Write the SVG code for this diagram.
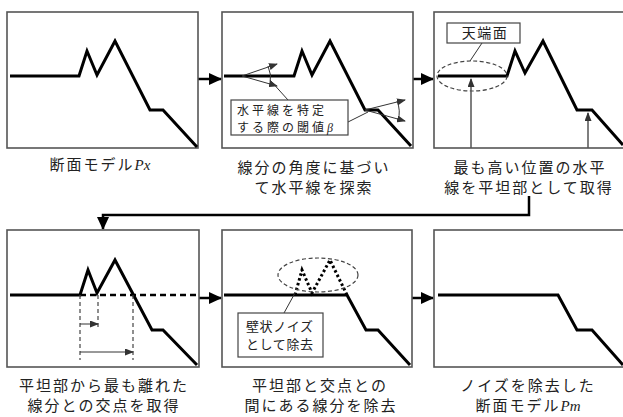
<svg xmlns="http://www.w3.org/2000/svg" width="623" height="417" viewBox="0 0 623 417">
<style>
.box{fill:#fff;stroke:#555;stroke-width:1.6}
.prof{fill:none;stroke:#000;stroke-width:3;stroke-linejoin:miter}
.conn{fill:none;stroke:#000;stroke-width:2.5}
.thin{fill:none;stroke:#333;stroke-width:1}
.gray{fill:none;stroke:#555;stroke-width:1.5}
.dash{fill:none;stroke:#444;stroke-width:1.2;stroke-dasharray:4 3}
.cap{font-family:"Noto Sans CJK JP","Noto Sans CJK SC",sans-serif;font-size:15px;letter-spacing:2px;fill:#222;text-anchor:middle}
.lab{font-family:"Noto Sans CJK JP","Noto Sans CJK SC",sans-serif;font-size:12px;letter-spacing:3px;fill:#222}
.lab2{font-family:"Noto Sans CJK JP","Noto Sans CJK SC",sans-serif;font-size:13px;letter-spacing:0.6px;fill:#222}
.it{font-family:"Liberation Serif",serif;font-style:italic;letter-spacing:0}
.cb{fill:#fff;stroke:#444;stroke-width:1.2}
</style>
<defs>
<marker id="big" markerUnits="userSpaceOnUse" markerWidth="13" markerHeight="12" refX="12" refY="6" orient="auto"><path d="M0,0 L13,6 L0,12 z" fill="#000"/></marker>
<marker id="sm" markerUnits="userSpaceOnUse" markerWidth="9" markerHeight="7" refX="8" refY="3.5" orient="auto"><path d="M0,0 L9,3.5 L0,7 z" fill="#333"/></marker>
</defs>

<g id="connectors">
<line class="conn" x1="198" y1="79" x2="221" y2="79" marker-end="url(#big)"/>
<line class="conn" x1="413" y1="79" x2="433" y2="79" marker-end="url(#big)"/>
<polyline class="conn" points="529,196 529,215 103,215 103,229" marker-end="url(#big)"/>
<line class="conn" x1="199" y1="298" x2="221" y2="298" marker-end="url(#big)"/>
<line class="conn" x1="412" y1="298" x2="433" y2="298" marker-end="url(#big)"/>
</g>

<g id="panel1">
<rect class="box" x="7" y="12" width="191" height="136"/>
<polyline class="prof" points="10,76 79,76 87,51 97,75 115,41 150,110 163,110 197,147"/>
<text class="cap" x="100" y="170">断面モデル<tspan class="it">Px</tspan></text>
</g>

<g id="panel2">
<rect class="box" x="222" y="12" width="191" height="136"/>
<polyline class="prof" points="224,76 294,76 302,51 312,75 330,41 365,110 378,110 411,146"/>
<line class="thin" x1="242" y1="76" x2="277" y2="64" marker-end="url(#sm)"/>
<line class="thin" x1="242" y1="76" x2="277" y2="86" marker-end="url(#sm)"/>
<path class="thin" d="M268,66 Q272,75 270,84"/>
<line class="thin" x1="270" y1="80" x2="288" y2="100"/>
<line class="thin" x1="365" y1="110" x2="405" y2="100" marker-end="url(#sm)"/>
<line class="thin" x1="365" y1="110" x2="405" y2="121" marker-end="url(#sm)"/>
<path class="thin" d="M397,101 Q401,111 398,120"/>
<line class="thin" x1="348" y1="122" x2="368" y2="112"/>
<rect class="cb" x="231" y="100" width="117" height="35"/>
<text class="lab" x="237" y="115">水平線を特定</text>
<text class="lab" x="237" y="131.5">する際の閾値<tspan class="it">β</tspan></text>
<text class="cap" x="314" y="173">線分の角度に基づい</text>
<text class="cap" x="314" y="193">て水平線を探索</text>
</g>

<g id="panel3">
<rect class="box" x="434" y="12" width="200" height="136"/>
<polyline class="prof" points="438,76 507,76 515,51 525,73 543,41 577,110 592,110 623,145"/>
<ellipse cx="472" cy="76" rx="35" ry="15" fill="none" stroke="#444" stroke-width="1.2" stroke-dasharray="4 2.5"/>
<line class="thin" x1="470" y1="61" x2="482" y2="43"/>
<rect class="cb" x="447" y="23" width="73" height="20"/>
<text class="lab" x="485" y="38" text-anchor="middle" style="font-size:14px;letter-spacing:1.5px">天端面</text>
<line class="gray" x1="471" y1="148" x2="471" y2="79" marker-end="url(#sm)"/>
<line class="gray" x1="588" y1="148" x2="588" y2="113" marker-end="url(#sm)"/>
<text class="cap" x="530" y="173">最も高い位置の水平</text>
<text class="cap" x="529" y="193">線を平坦部として取得</text>
</g>

<g id="panel4">
<rect class="box" x="7" y="230" width="192" height="137"/>
<polyline class="prof" points="10,295 80,295 88,270 97,293 115,260 152,330 163,330 197,365"/>
<line x1="80" y1="295" x2="199" y2="295" stroke="#000" stroke-width="2.5" stroke-dasharray="6 4"/>
<line class="dash" x1="80" y1="295" x2="80" y2="360"/>
<line class="dash" x1="98" y1="295" x2="98" y2="330"/>
<line class="dash" x1="133" y1="295" x2="133" y2="360"/>
<line class="thin" x1="80" y1="324" x2="98" y2="324" marker-end="url(#sm)"/>
<line class="thin" x1="80" y1="352" x2="133" y2="352" marker-end="url(#sm)"/>
<text class="cap" x="104" y="391">平坦部から最も離れた</text>
<text class="cap" x="104" y="411">線分との交点を取得</text>
</g>

<g id="panel5">
<rect class="box" x="222" y="230" width="190" height="137"/>
<polyline class="prof" points="224,295 347,295 366,330 378,330 410,365"/>
<polyline points="295,295 302,270 312,293 330,260 347,295" fill="none" stroke="#000" stroke-width="3" stroke-dasharray="2.5 2.5"/>
<ellipse cx="318" cy="275" rx="40" ry="17" fill="none" stroke="#444" stroke-width="1.2" stroke-dasharray="4 2.5"/>
<line class="thin" x1="295" y1="293" x2="284" y2="313"/>
<rect class="cb" x="238" y="313" width="85" height="44"/>
<text class="lab2" x="246" y="331">壁状ノイズ</text>
<text class="lab2" x="246" y="349">として除去</text>
<text class="cap" x="320" y="391">平坦部と交点との</text>
<text class="cap" x="321" y="411">間にある線分を除去</text>
</g>

<g id="panel6">
<rect class="box" x="434" y="230" width="200" height="137"/>
<polyline class="prof" points="438,295 558,295 577,330 592,330 623,365"/>
<text class="cap" x="528" y="391">ノイズを除去した</text>
<text class="cap" x="528" y="411">断面モデル<tspan class="it">Pm</tspan></text>
</g>
</svg>
